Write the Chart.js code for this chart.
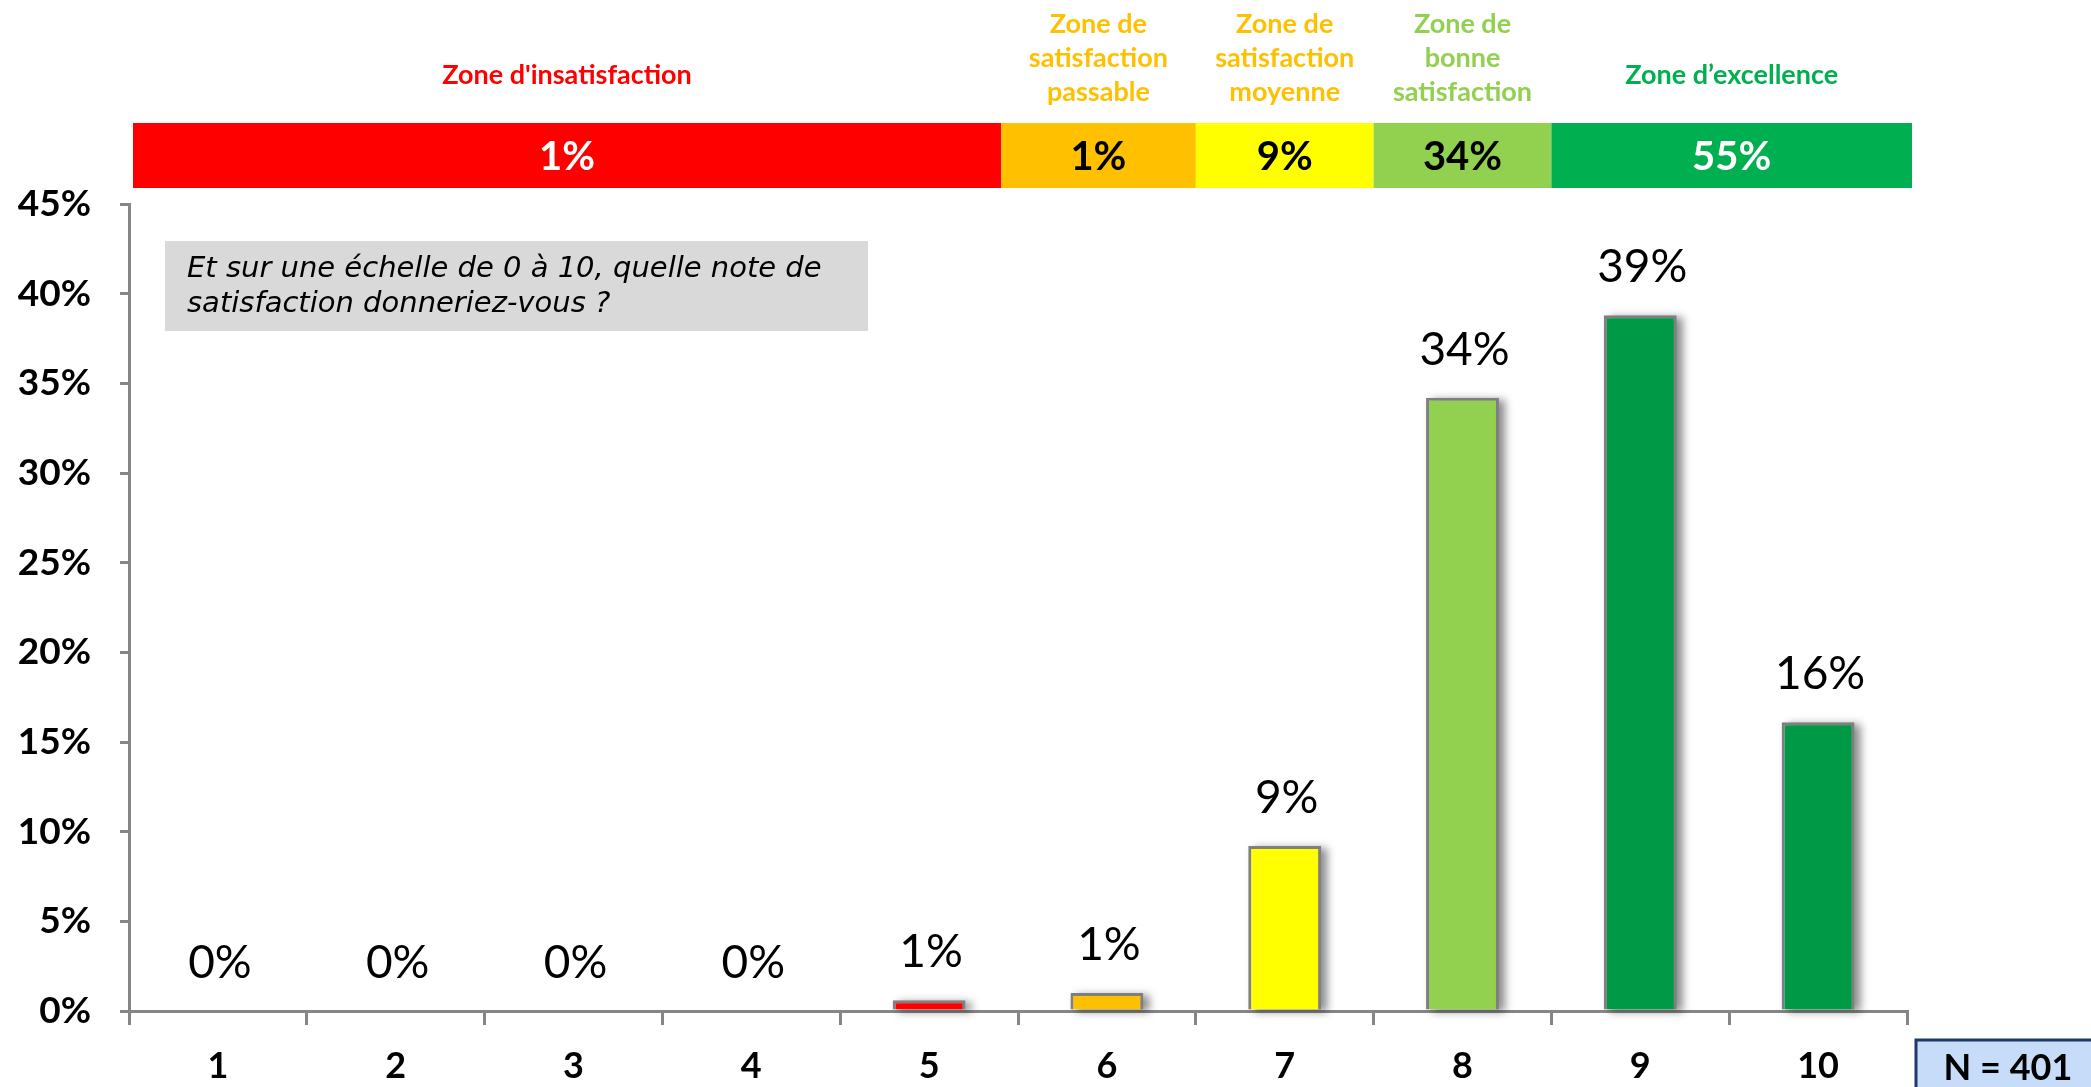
<!DOCTYPE html>
<html>
<head>
<meta charset="utf-8">
<script src="https://cdn.jsdelivr.net/npm/chart.js@4.4.0/dist/chart.umd.min.js"></script>
<style>
  body { margin: 0; background: #fff; }
  canvas { display: block; }
</style>
</head>
<body>
<canvas id="noteChart" width="2091" height="1087"></canvas>
<script>
// scores 1..10 and share of answers (%)
var categories = ['1', '2', '3', '4', '5', '6', '7', '8', '9', '10'];
var values = [0, 0, 0, 0, 0.6, 1, 9.2, 34.2, 38.8, 16.1];
var valueLabels = ['0%', '0%', '0%', '0%', '1%', '1%', '9%', '34%', '39%', '16%'];
var barColors = ['#ff0000', '#ff0000', '#ff0000', '#ff0000', '#ff0000', '#ffc000', '#ffff00', '#92d050', '#009a46', '#009a46'];
var yTicks = [0, 5, 10, 15, 20, 25, 30, 35, 40, 45];

// satisfaction zones (first / last category index)
var zoneNames = [["Zone d'insatisfaction"], ['Zone de', 'satisfaction', 'passable'], ['Zone de', 'satisfaction', 'moyenne'], ['Zone de', 'bonne', 'satisfaction'], ['Zone d\u2019excellence']];
var zoneValues = ['1%', '1%', '9%', '34%', '55%'];
var zoneFirst = [0, 5, 6, 7, 8];
var zoneLast = [4, 5, 6, 7, 9];
var zoneColors = ['#ff0000', '#ffc000', '#ffff00', '#92d050', '#00b050'];
var zoneTitleColors = ['#ff0000', '#ffc000', '#ffc000', '#92d050', '#00b050'];
var zoneValueColors = ['#ffffff', '#000000', '#000000', '#000000', '#ffffff'];

var question = ['Et sur une \u00e9chelle de 0 \u00e0 10, quelle note de', 'satisfaction donneriez-vous ?'];
var sampleText = 'N = 401';

var FONT = 'Lato, "Open Sans", sans-serif';

// soft grey shadow behind each bar, like the office chart
var shadowPlugin = {
    id: 'barShadow',
    beforeDatasetsDraw: function (chart) {
        var c = chart.ctx;
        var meta = chart.getDatasetMeta(0);
        c.save();
        c.filter = 'blur(4px)';
        c.fillStyle = 'rgba(0,0,0,0.45)';
        meta.data.forEach(function (bar) {
            var h = bar.base - bar.y;
            if (h <= 0) return;
            c.fillRect(bar.x - bar.width / 2 + 6, bar.y + 2, bar.width, h);
        });
        c.restore();
    }
};

var extrasPlugin = {
    id: 'extras',
    afterDraw: function (chart) {
        var c = chart.ctx;
        var x = chart.scales.x;
        var catW = x.getPixelForValue(1) - x.getPixelForValue(0);
        c.save();

        // zone band + titles
        for (var i = 0; i < zoneNames.length; i++) {
            var left = x.getPixelForValue(zoneFirst[i]) - catW / 2;
            var right = x.getPixelForValue(zoneLast[i]) + catW / 2;
            if (i === 0) { left += 4; right -= 17; }
            if (i === 1) { left -= 17; }
            if (i === zoneNames.length - 1) { right += 5; }
            c.fillStyle = zoneColors[i];
            c.fillRect(left, 123, right - left, 65);
            var mid = (left + right) / 2;
            c.fillStyle = zoneValueColors[i];
            c.font = 'bold 40px ' + FONT;
            c.textAlign = 'center';
            c.textBaseline = 'middle';
            c.fillText(zoneValues[i], mid, 157);
            c.fillStyle = zoneTitleColors[i];
            c.font = 'bold 27px ' + FONT;
            var lines = zoneNames[i];
            if (lines.length === 1) {
                c.fillText(lines[0], mid, 75);
            } else {
                for (var j = 0; j < lines.length; j++) {
                    c.fillText(lines[j], mid, 24 + j * 34);
                }
            }
        }

        // value labels above bars
        var meta = chart.getDatasetMeta(0);
        c.fillStyle = '#000';
        c.font = '46px ' + FONT;
        meta.data.forEach(function (bar, k) {
            c.fillText(valueLabels[k], bar.x + 2, bar.y - 48);
        });

        // question box
        c.fillStyle = '#d9d9d9';
        c.fillRect(165, 241, 703, 90);
        c.fillStyle = '#000';
        c.font = 'italic 29px "DejaVu Sans", sans-serif';
        c.textAlign = 'left';
        c.fillText(question[0], 187, 269);
        c.fillText(question[1], 187, 304);

        // sample size box
        c.fillStyle = '#c6dcf8';
        c.fillRect(1916, 1040, 180, 60);
        c.strokeStyle = '#1f3864';
        c.lineWidth = 3;
        c.strokeRect(1916, 1040, 180, 60);
        c.fillStyle = '#000';
        c.font = 'bold 36px ' + FONT;
        c.textAlign = 'center';
        c.fillText(sampleText, 2008, 1068);

        c.restore();
    }
};

var ctx = document.getElementById('noteChart').getContext('2d');
var myChart = new Chart(ctx, {
    type: 'bar',
    data: {
        labels: categories,
        datasets: [{
            data: values,
            backgroundColor: barColors,
            borderColor: '#7f7f7f',
            borderWidth: 3,
            categoryPercentage: 1,
            barPercentage: 0.41
        }]
    },
    options: {
        responsive: false,
        animation: false,
        events: [],
        layout: { padding: { top: 204, right: 184, left: 0, bottom: 0 } },
        plugins: {
            legend: { display: false },
            tooltip: { enabled: false }
        },
        scales: {
            x: {
                afterFit: function (s) { s.height = 76; },
                grid: { display: true, drawOnChartArea: false, drawTicks: true, tickLength: 14, offset: true, color: '#868686', lineWidth: 3 },
                border: { display: true, color: '#868686', width: 3 },
                ticks: { color: '#000', font: { family: FONT, size: 36, weight: 'bold' }, padding: 20 }
            },
            y: {
                min: 0,
                max: 45,
                afterFit: function (s) { s.width = 129; },
                afterBuildTicks: function (s) { s.ticks = yTicks.map(function (v) { return { value: v }; }); },
                grid: { display: true, drawOnChartArea: false, drawTicks: true, tickLength: 9, color: '#868686', lineWidth: 3 },
                border: { display: true, color: '#868686', width: 3 },
                ticks: {
                    color: '#000',
                    padding: 29,
                    font: { family: FONT, size: 37, weight: 'bold' },
                    callback: function (v) { return v + '%'; }
                }
            }
        }
    },
    plugins: [shadowPlugin, extrasPlugin]
});
</script>
</body>
</html>
